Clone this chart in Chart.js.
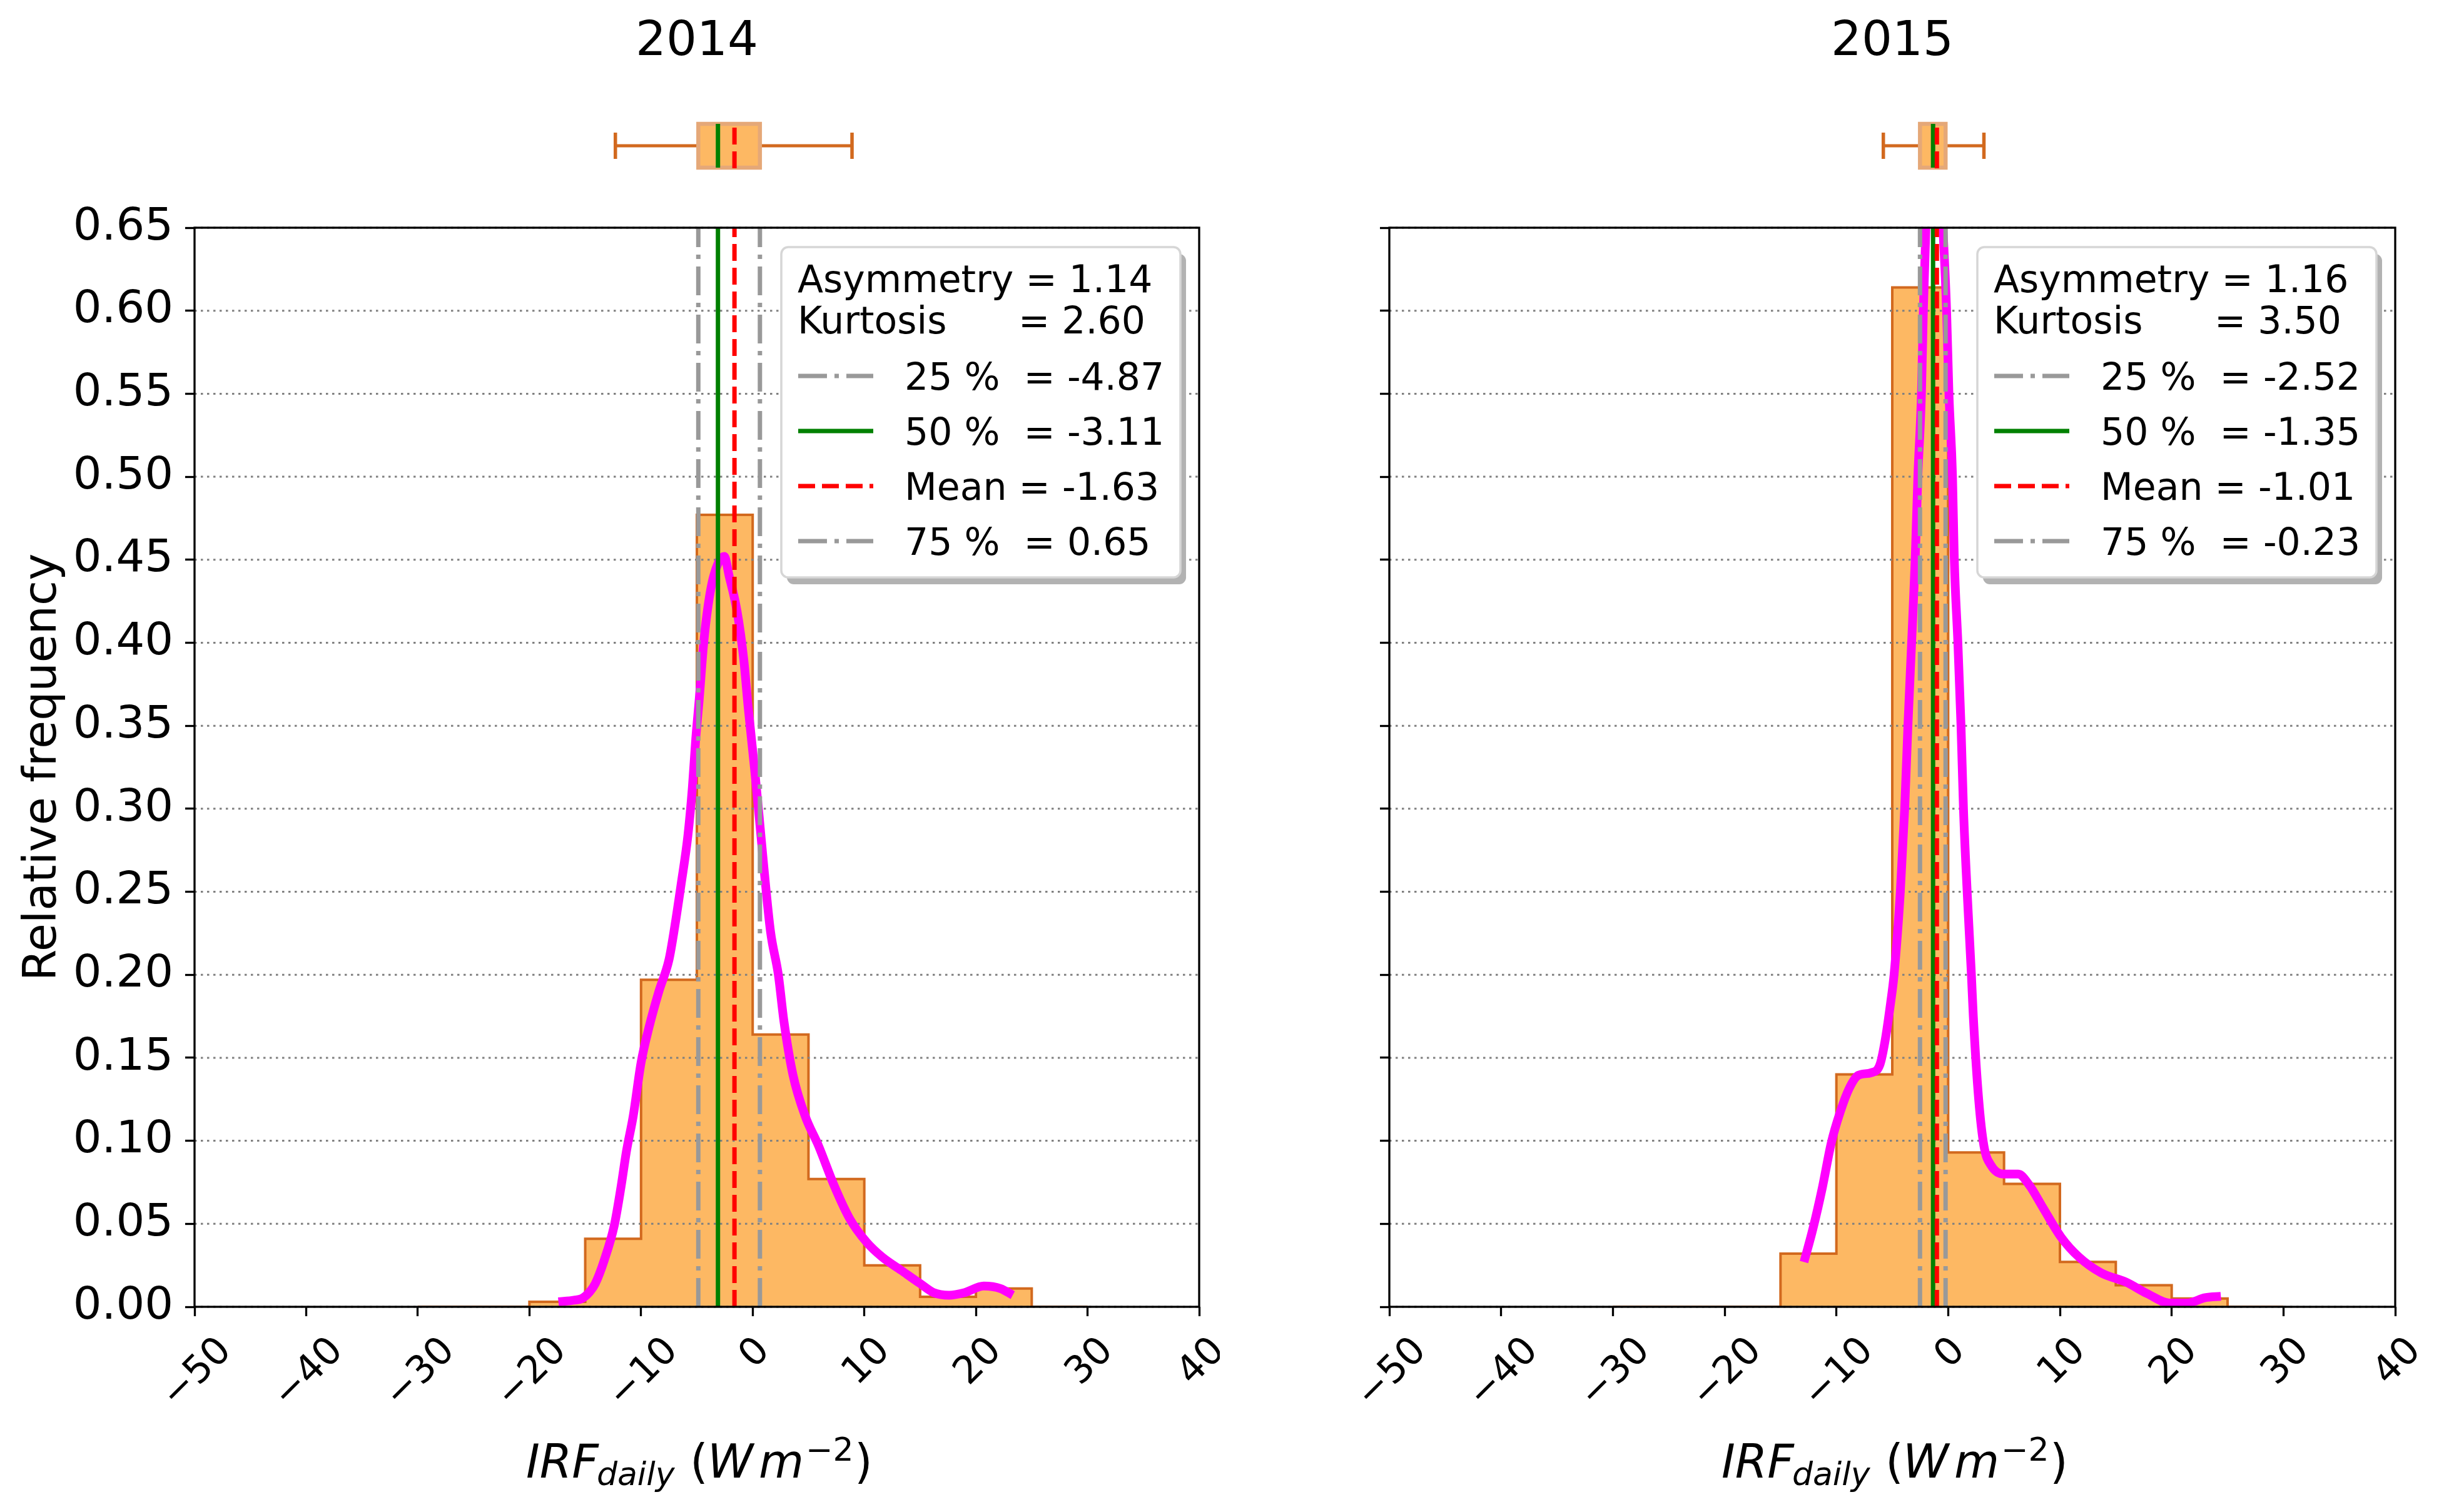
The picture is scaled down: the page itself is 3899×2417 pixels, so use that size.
<!DOCTYPE html>
<html>
<head>
<meta charset="utf-8">
<script src="https://cdn.jsdelivr.net/npm/chart.js@4.4.1/dist/chart.umd.min.js"></script>
<style>
  html, body { margin: 0; padding: 0; background: #fff; overflow: hidden; }
  canvas { position: absolute; top: 0; }
  #c2014 { left: 0; }
  #c2015 { left: 1950px; }
</style>
</head>
<body>
<canvas id="c2014" width="1950" height="2417" style="width:1950px;height:2417px"></canvas>
<canvas id="c2015" width="1949" height="2417" style="width:1949px;height:2417px"></canvas>
<script>
// histogram bins (width 5), relative frequency per bin
const binEdges = [-30, -25, -20, -15, -10, -5, 0, 5, 10, 15, 20, 25, 30];
const freq2014 = [0, 0, 0.003, 0.041, 0.197, 0.477, 0.164, 0.077, 0.025, 0.006, 0.011, 0];
const freq2015 = [0, 0, 0, 0.032, 0.140, 0.614, 0.093, 0.074, 0.027, 0.013, 0.005, 0];

// kde curves
const kdeX2014 = [-17.4, -16.0, -15.3, -14.6, -14.1, -13.3, -12.4, -11.8, -11.3, -10.7, -10.0, -9.3, -8.4, -7.5, -7.1, -6.4, -5.8, -5.4, -5.1, -4.8, -4.4, -4.0, -3.5, -2.55, -2.1, -1.4, -0.8, -0.4, 0.2, 0.6, 1.0, 1.6, 2.3, 2.8, 3.6, 4.7, 5.9, 7.3, 8.7, 10.2, 11.6, 13.3, 15.0, 16.2, 17.6, 19.0, 20.7, 22.2, 23.3];
const kdeY2014 = [0.003, 0.004, 0.005, 0.009, 0.014, 0.028, 0.049, 0.072, 0.094, 0.115, 0.147, 0.168, 0.190, 0.209, 0.224, 0.255, 0.284, 0.313, 0.342, 0.365, 0.399, 0.422, 0.440, 0.452, 0.440, 0.419, 0.390, 0.361, 0.322, 0.294, 0.265, 0.226, 0.200, 0.172, 0.140, 0.115, 0.097, 0.073, 0.053, 0.039, 0.030, 0.022, 0.014, 0.0086, 0.007, 0.0086, 0.0125, 0.011, 0.007];
const kdeX2015 = [-12.9, -12.1, -11.25, -10.45, -9.65, -8.85, -8.05, -6.9, -6.1, -5.65, -5.15, -4.84, -4.28, -3.89, -3.6, -3.27, -2.95, -2.71, -2.39, -2.22, -1.99, -1.6, -1.25, -0.9, -0.47, -0.14, 0.07, 0.39, 0.55, 0.87, 1.15, 1.37, 1.7, 2.08, 2.25, 2.73, 3.2, 3.86, 4.98, 6.27, 7.23, 8.5, 10.1, 11.7, 13.7, 15.9, 17.85, 19.8, 21.4, 23.0, 24.4];
const kdeY2015 = [0.027, 0.047, 0.072, 0.099, 0.1175, 0.1316, 0.1394, 0.141, 0.146, 0.160, 0.183, 0.20, 0.25, 0.30, 0.35, 0.40, 0.45, 0.50, 0.55, 0.60, 0.65, 0.70, 0.72, 0.70, 0.65, 0.60, 0.55, 0.50, 0.45, 0.40, 0.35, 0.30, 0.25, 0.20, 0.175, 0.125, 0.097, 0.085, 0.080, 0.080, 0.0736, 0.0595, 0.042, 0.030, 0.0204, 0.0149, 0.0078, 0.0023, 0.0023, 0.0055, 0.0063];

// [25%, 50%, mean, 75%]
const stats2014 = [-4.87, -3.11, -1.63, 0.65];
const stats2015 = [-2.52, -1.35, -1.01, -0.23];
// [asymmetry, kurtosis]
const shape2014 = [1.14, 2.60];
const shape2015 = [1.16, 3.50];
// boxplot whisker ends [low, high]
const whisk2014 = [-12.3, 8.9];
const whisk2015 = [-5.8, 3.2];

const yMax = 0.65;
const FONT = "'DejaVu Sans', sans-serif";
const ORANGE = '#fdb863', EDGE = '#d2691e', GREY = '#999999', GREEN = '#008000', RED = '#ff0000', MAGENTA = '#ff00ff';
const DASHDOT = [46, 12, 7, 12], DASHED = [27, 11];
const lineStyles = [[GREY, DASHDOT], [GREEN, []], [RED, DASHED], [GREY, DASHDOT]];
const lineNames = ['25 %  = ', '50 %  = ', 'Mean = ', '75 %  = '];

Chart.defaults.font.family = FONT;

function drawXTicks(ctx, chart) {
  const xs = chart.scales.x, a = chart.chartArea;
  const size = 61, capH = size * 0.73;
  ctx.save();
  ctx.font = size + 'px ' + FONT;
  ctx.fillStyle = '#000';
  ctx.textAlign = 'center';
  ctx.textBaseline = 'alphabetic';
  xs.ticks.forEach(t => {
    const s = t.value < 0 ? '\u2212' + Math.abs(t.value) : String(t.value);
    const w = ctx.measureText(s).width;
    const half = (w + capH) / (2 * Math.SQRT2);
    ctx.save();
    ctx.translate(xs.getPixelForValue(t.value), a.bottom + 41 + half);
    ctx.rotate(-Math.PI / 4);
    ctx.fillText(s, 0, capH / 2);
    ctx.restore();
  });
  ctx.restore();
}

function drawXLabel(ctx, a) {
  const x0 = (a.left + a.right) / 2 - 273, base = a.bottom + 273;
  const parts = [
    ['IRF', 'italic 74px', 0, 0],
    ['daily', 'italic 52px', 113, 12],
    ['(', '74px', 262, 0],
    ['W', 'italic 74px', 290, 0],
    ['m', 'italic 74px', 372, 0],
    ['\u22122', '52px', 447, -27],
    [')', '74px', 525, 0]
  ];
  ctx.save();
  ctx.fillStyle = '#000';
  ctx.textAlign = 'left';
  ctx.textBaseline = 'alphabetic';
  parts.forEach(p => {
    ctx.font = p[1] + ' ' + FONT;
    ctx.fillText(p[0], x0 + p[2], base + p[3]);
  });
  ctx.restore();
}

function drawBox(ctx, xs, stats, whisk) {
  const px = v => xs.getPixelForValue(v);
  const top = 198, bot = 268, mid = 233;
  ctx.save();
  // whiskers and caps
  ctx.strokeStyle = EDGE;
  ctx.lineWidth = 5;
  ctx.beginPath();
  ctx.moveTo(px(whisk[0]), mid); ctx.lineTo(px(stats[0]), mid);
  ctx.moveTo(px(stats[3]), mid); ctx.lineTo(px(whisk[1]), mid);
  ctx.stroke();
  ctx.lineWidth = 5.5;
  ctx.beginPath();
  ctx.moveTo(px(whisk[0]), 212); ctx.lineTo(px(whisk[0]), 254);
  ctx.moveTo(px(whisk[1]), 212); ctx.lineTo(px(whisk[1]), 254);
  ctx.stroke();
  // box
  ctx.fillStyle = ORANGE;
  ctx.strokeStyle = '#e5a878';
  ctx.lineWidth = 6.5;
  ctx.beginPath();
  ctx.rect(px(stats[0]), top, px(stats[3]) - px(stats[0]), bot - top);
  ctx.fill();
  ctx.stroke();
  // median and mean
  ctx.lineWidth = 7;
  ctx.strokeStyle = GREEN;
  ctx.beginPath(); ctx.moveTo(px(stats[1]), top); ctx.lineTo(px(stats[1]), bot); ctx.stroke();
  ctx.strokeStyle = RED;
  ctx.setLineDash(DASHED);
  ctx.beginPath(); ctx.moveTo(px(stats[2]), 204); ctx.lineTo(px(stats[2]), 269); ctx.stroke();
  ctx.restore();
}

function drawLegend(ctx, a, stats, shape) {
  const w = 638, h = 528, L = a.right - 30 - w, T = a.top + 31;
  ctx.save();
  ctx.fillStyle = '#b2b2b2';
  ctx.beginPath(); ctx.roundRect(L + 9, T + 11, w, h, 11); ctx.fill();
  ctx.fillStyle = '#fff';
  ctx.strokeStyle = '#d6d6d6';
  ctx.lineWidth = 3.5;
  ctx.beginPath(); ctx.roundRect(L, T, w, h, 11); ctx.fill(); ctx.stroke();

  ctx.fillStyle = '#000';
  ctx.font = '60px ' + FONT;
  ctx.textAlign = 'left';
  ctx.textBaseline = 'alphabetic';
  ctx.fillText('Asymmetry = ' + shape[0].toFixed(2), L + 26, T + 72);
  ctx.fillText('Kurtosis      = ' + shape[1].toFixed(2), L + 26, T + 138);
  stats.forEach((v, i) => {
    const base = T + 228 + i * 88;
    ctx.save();
    ctx.strokeStyle = lineStyles[i][0];
    ctx.setLineDash(lineStyles[i][1]);
    ctx.lineWidth = 7;
    ctx.beginPath(); ctx.moveTo(L + 27, base - 22); ctx.lineTo(L + 147, base - 22); ctx.stroke();
    ctx.restore();
    ctx.fillText(lineNames[i] + v.toFixed(2), L + 197, base);
  });
  ctx.restore();
}

function makePanel(canvasId, cfg) {
  // step outline: each bin value holds from its left edge to the next edge
  const histPts = [{x: binEdges[0], y: 0}];
  cfg.freq.forEach((v, i) => histPts.push({x: binEdges[i], y: v}));
  histPts.push({x: binEdges[binEdges.length - 1], y: 0});
  const kdePts = cfg.kdeX.map((x, i) => ({x: x, y: cfg.kdeY[i]}));

  const datasets = [{
    data: histPts, stepped: 'before', fill: 'origin',
    backgroundColor: ORANGE, borderColor: EDGE, borderWidth: 4,
    pointRadius: 0, order: 10
  }, {
    data: kdePts, cubicInterpolationMode: 'monotone', fill: false,
    borderColor: MAGENTA, borderWidth: 14, borderCapStyle: 'butt',
    pointRadius: 0, clip: 0, order: 5
  }];
  cfg.stats.forEach((v, i) => {
    datasets.push({
      data: [{x: v, y: 0}, {x: v, y: yMax}], fill: false,
      borderColor: lineStyles[i][0], borderDash: lineStyles[i][1], borderWidth: 7,
      borderCapStyle: 'butt', pointRadius: 0, clip: 0, order: 4 - i
    });
  });

  const panel = {
    id: 'panel',
    afterDatasetDraw(chart, args) {
      if (args.index !== 0) return;
      // dotted horizontal grid sits above the histogram, under the lines
      const ctx = chart.ctx, a = chart.chartArea, ys = chart.scales.y;
      ctx.save();
      ctx.strokeStyle = '#808080';
      ctx.lineWidth = 3;
      ctx.setLineDash([3.5, 6.5]);
      ys.ticks.forEach(t => {
        const py = ys.getPixelForValue(t.value);
        ctx.beginPath(); ctx.moveTo(a.left, py); ctx.lineTo(a.right, py); ctx.stroke();
      });
      ctx.restore();
    },
    afterDraw(chart) {
      const ctx = chart.ctx, a = chart.chartArea;
      ctx.save();
      ctx.strokeStyle = '#000';
      ctx.lineWidth = 3.3;
      ctx.strokeRect(a.left, a.top, a.right - a.left, a.bottom - a.top);
      ctx.fillStyle = '#000';
      ctx.font = '77px ' + FONT;
      ctx.textAlign = 'center';
      ctx.textBaseline = 'alphabetic';
      ctx.fillText(cfg.title, (a.left + a.right) / 2, 88);
      ctx.restore();
      drawXTicks(ctx, chart);
      drawXLabel(ctx, a);
      drawBox(ctx, chart.scales.x, cfg.stats, cfg.whisk);
      drawLegend(ctx, a, cfg.stats, cfg.shape);
    }
  };

  return new Chart(document.getElementById(canvasId), {
    type: 'line',
    data: {datasets: datasets},
    plugins: [panel],
    options: {
      responsive: false,
      animation: false,
      events: [],
      layout: {padding: {top: 364, left: 0, right: cfg.padRight, bottom: 0}},
      plugins: {legend: {display: false}, tooltip: {enabled: false}},
      scales: {
        x: {
          type: 'linear', min: -50, max: 40,
          ticks: {display: false, stepSize: 10},
          grid: {drawOnChartArea: false, drawTicks: true, tickLength: 15, tickWidth: 3.3, tickColor: '#000'},
          border: {display: false},
          afterFit: s => { s.height = 328; }
        },
        y: {
          min: 0, max: yMax,
          ticks: {
            display: cfg.showY, stepSize: 0.05, autoSkip: false, padding: 19,
            color: '#000', font: {size: 72},
            callback: v => v.toFixed(2)
          },
          title: {
            display: cfg.showY, text: 'Relative frequency', color: '#000',
            font: {size: 73}, padding: {top: 26, bottom: 0}
          },
          grid: {drawOnChartArea: false, drawTicks: true, tickLength: 15, tickWidth: 3.3, tickColor: '#000'},
          border: {display: false},
          afterFit: s => { s.width = cfg.axisWidth; }
        }
      }
    }
  });
}

makePanel('c2014', {
  title: '2014', freq: freq2014, kdeX: kdeX2014, kdeY: kdeY2014,
  stats: stats2014, shape: shape2014, whisk: whisk2014,
  showY: true, axisWidth: 311, padRight: 33
});
makePanel('c2015', {
  title: '2015', freq: freq2015, kdeX: kdeX2015, kdeY: kdeY2015,
  stats: stats2015, shape: shape2015, whisk: whisk2015,
  showY: false, axisWidth: 271, padRight: 70
});
</script>
</body>
</html>
